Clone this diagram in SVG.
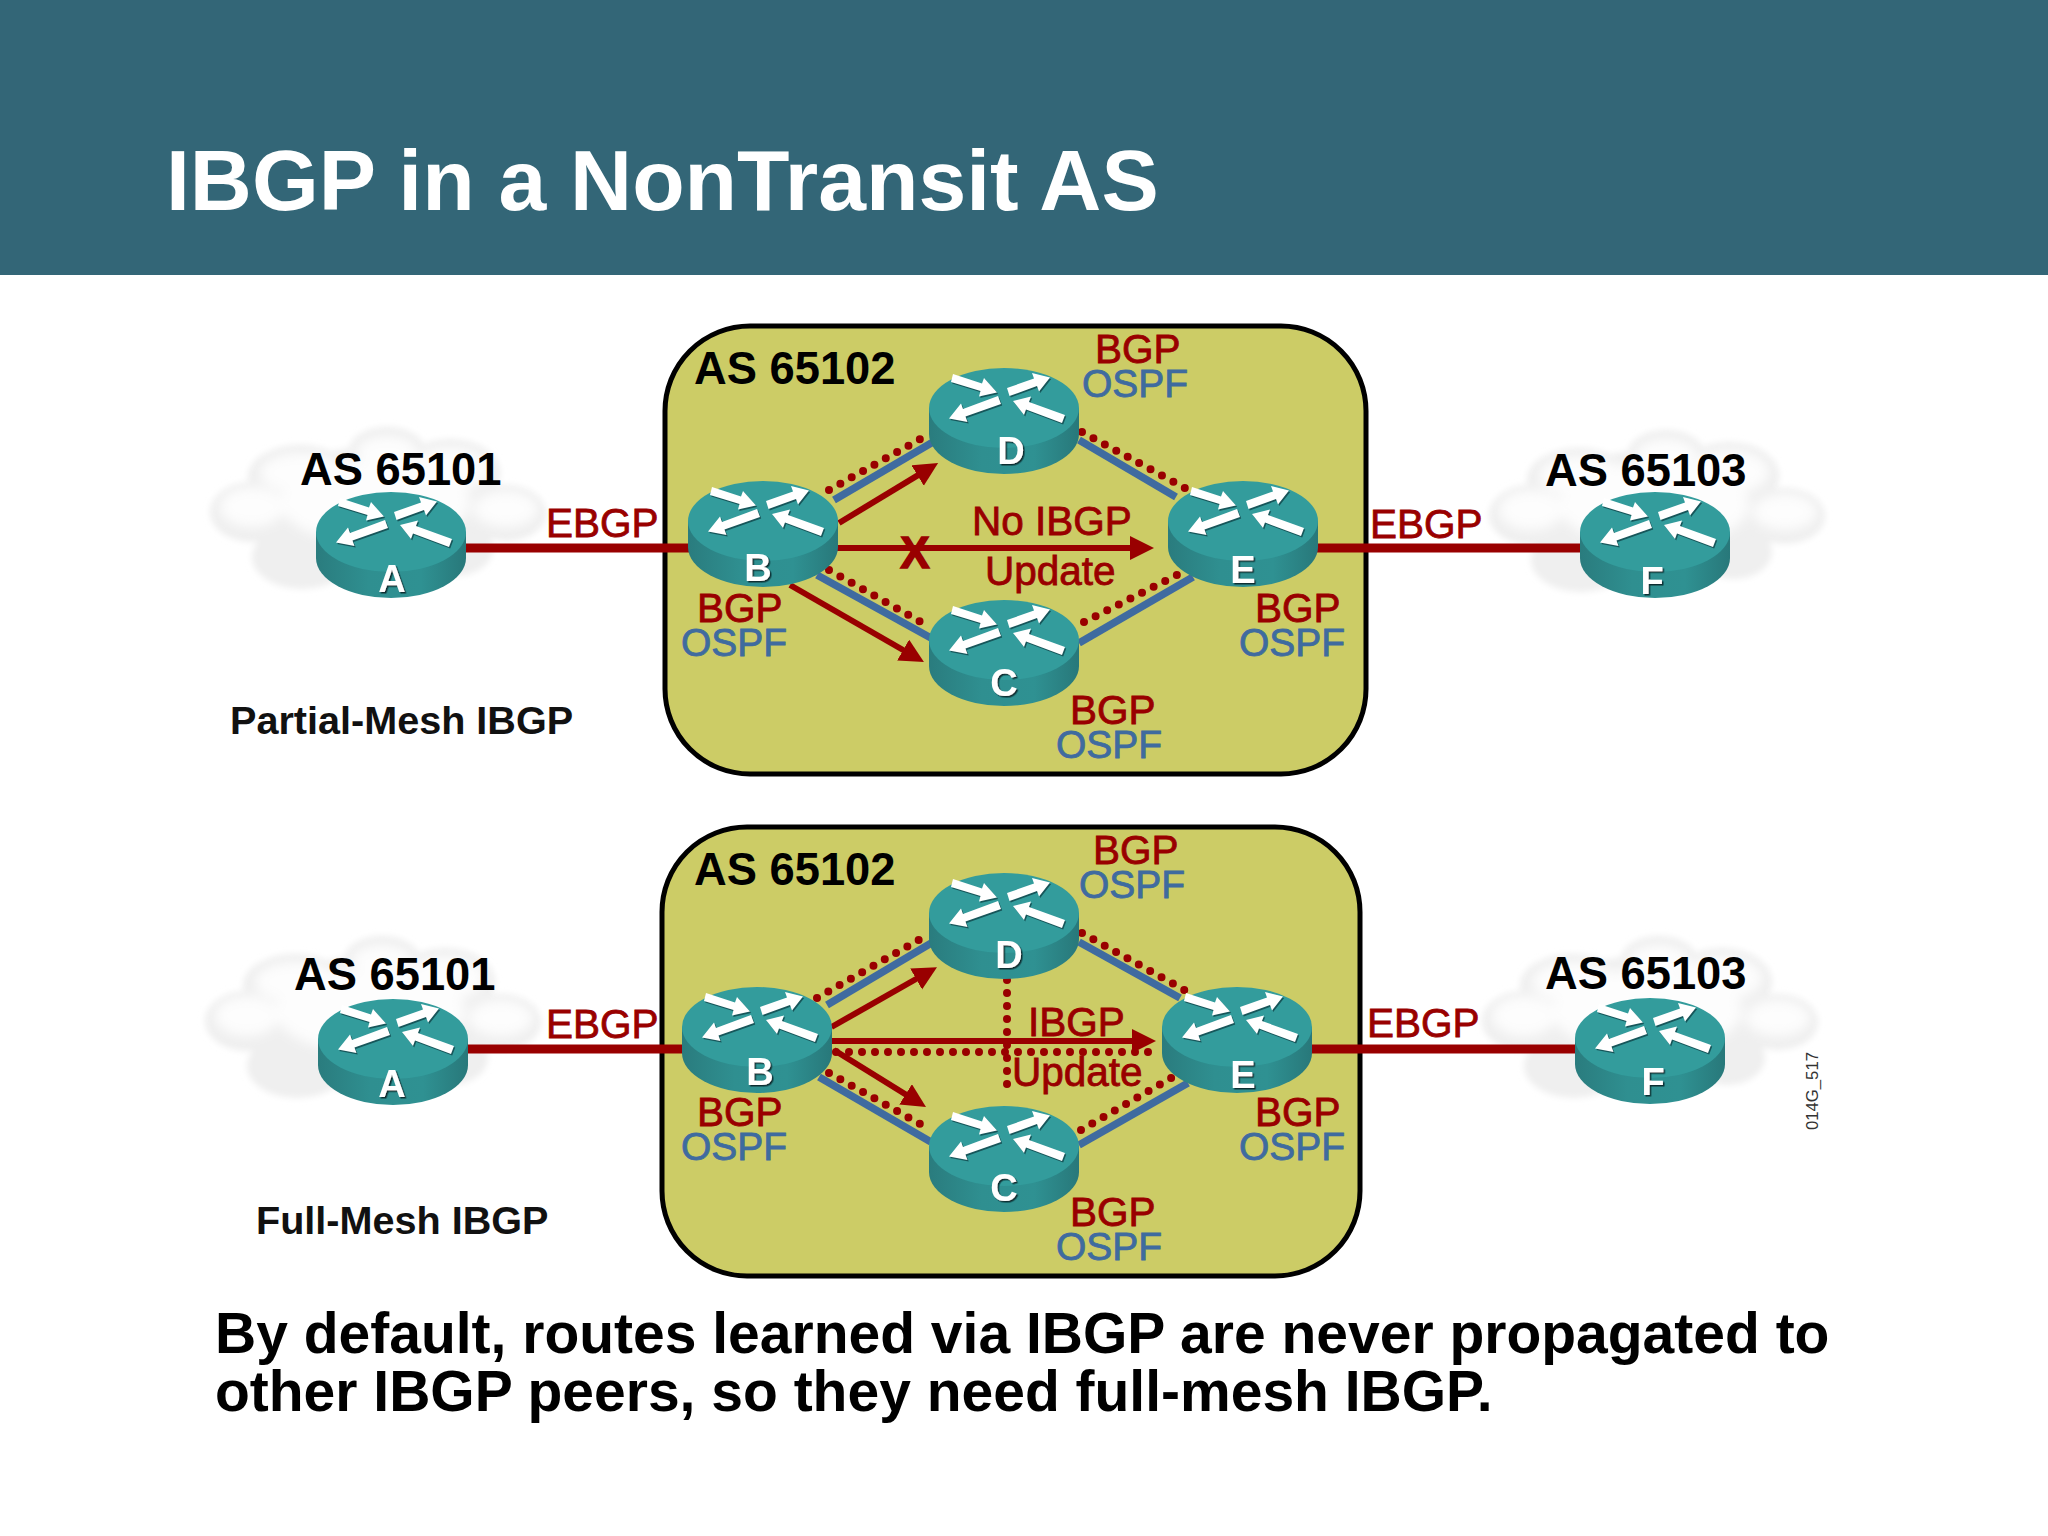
<svg xmlns="http://www.w3.org/2000/svg" width="2048" height="1536" viewBox="0 0 2048 1536">
<style>
text{font-family:"Liberation Sans",Arial,sans-serif}
.h{font-weight:bold;fill:#000;font-size:45.3px}
.sub{font-weight:bold;fill:#111;font-size:39.6px}
.body{font-weight:bold;fill:#000;font-size:57px}
.b{fill:#990000;stroke:#990000;stroke-width:.8;font-size:40.5px}
.o{fill:#3f6b9f;stroke:#3f6b9f;stroke-width:.8;font-size:39px}
.lab{font-weight:bold;fill:#fff;font-size:38px;text-anchor:middle;filter:url(#shadow)}
.box{fill:#cccc66;stroke:#000;stroke-width:5}
.ebgp{stroke:#990000;stroke-width:9;fill:none}
.ospf{stroke:#3f6ba0;stroke-width:7.5;fill:none}
.dot{stroke:#990000;stroke-width:8;stroke-linecap:round;stroke-dasharray:0 13;fill:none}
.arr{stroke:#990000;stroke-width:6;fill:none;marker-end:url(#head)}
</style>
<defs>
<marker id="head" markerUnits="userSpaceOnUse" markerWidth="26" markerHeight="26" refX="4" refY="12" orient="auto"><path d="M0,0L24,12L0,24Z" fill="#990000"/></marker>
<filter id="shadow" x="-30%" y="-30%" width="170%" height="170%"><feDropShadow dx="1.5" dy="1.5" stdDeviation="0.5" flood-color="#0b2f30"/></filter>
<filter id="soft" x="-10%" y="-10%" width="120%" height="120%"><feGaussianBlur stdDeviation="3"/></filter>
<filter id="softer" x="-20%" y="-20%" width="140%" height="140%"><feGaussianBlur stdDeviation="6"/></filter>
<g id="cloud">
<g filter="url(#soft)" fill="#efefef">
<ellipse cx="163" cy="88" rx="115" ry="68"/>
<ellipse cx="42" cy="85" rx="42" ry="30"/>
<ellipse cx="90" cy="50" rx="52" ry="32"/>
<ellipse cx="177" cy="24" rx="38" ry="24"/>
<ellipse cx="240" cy="46" rx="50" ry="34"/>
<ellipse cx="296" cy="86" rx="40" ry="28"/>
<ellipse cx="92" cy="130" rx="50" ry="32"/>
<ellipse cx="245" cy="122" rx="38" ry="27"/>
</g>
<g filter="url(#softer)" fill="#fdfdfd">
<ellipse cx="42" cy="80" rx="32" ry="20"/>
<ellipse cx="92" cy="46" rx="42" ry="20"/>
<ellipse cx="177" cy="24" rx="30" ry="15"/>
<ellipse cx="240" cy="42" rx="40" ry="22"/>
<ellipse cx="296" cy="82" rx="32" ry="18"/>
<ellipse cx="165" cy="75" rx="95" ry="42"/>
</g>
</g>
<g id="arrows">
<polygon points="-51,6 -22,15.5 -20,10 -7,24.5 -25,28.5 -23.5,23 -53,14"/>
<polygon points="3,20 30,10.5 28,5 46,9.5 35,23.5 33,18 5.5,28"/>
<polygon points="-6,28 -41,41 -43,35.5 -55,50.5 -36.5,54 -38.5,48.5 -3,36"/>
<polygon points="61,47 25,34 27,28.5 9,33 20,47 22,41.5 58,55"/>
</g>
<linearGradient id="side"><stop offset="0" stop-color="#2a7c7e"/><stop offset=".35" stop-color="#2f8f90"/><stop offset=".7" stop-color="#2f9192"/><stop offset="1" stop-color="#28787a"/></linearGradient>
<g id="router">
<path d="M-75,40V66A75,40 0 0 0 75,66V40Z" fill="url(#side)"/>
<ellipse cx="0" cy="40" rx="75" ry="40" fill="#339c9c"/>
<use href="#arrows" x="1.2" y="1.5" fill="#17565a"/>
<use href="#arrows" fill="#fff"/>
</g>
</defs>

<rect id="page" width="2048" height="1536" fill="#fff"/>
<g id="header"><rect width="2048" height="275" fill="#336677"/>
<text x="166" y="210" font-size="85.9" font-weight="bold" fill="#fff">IBGP in a NonTransit AS</text></g>

<g id="cloud-top-as65101"><use href="#cloud" x="210" y="427"/></g>
<g id="cloud-top-as65103"><use href="#cloud" x="1489" y="430"/></g>
<g id="cloud-bottom-as65101"><use href="#cloud" x="205" y="936"/></g>
<g id="cloud-bottom-as65103"><use href="#cloud" x="1482" y="936"/></g>

<g id="as-top"><rect class="box" x="665" y="326" width="701" height="448" rx="85" ry="85"/></g>
<g id="as-bottom"><rect class="box" x="662" y="827" width="698" height="449" rx="85" ry="85"/></g>

<g id="connectors">
<g id="connectors-top">
<line class="ebgp" x1="460" y1="548" x2="700" y2="548"/>
<line class="ebgp" x1="1310" y1="548" x2="1590" y2="548"/>
<line class="ospf" x1="834" y1="500" x2="933" y2="442"/>
<line class="ospf" x1="1079" y1="440" x2="1176" y2="497"/>
<line class="ospf" x1="817" y1="575" x2="931" y2="638"/>
<line class="ospf" x1="1079" y1="643" x2="1193" y2="577"/>
<line class="dot" x1="829" y1="490" x2="924" y2="437"/>
<line class="dot" x1="1082" y1="432" x2="1185" y2="488"/>
<line class="dot" x1="829" y1="570" x2="921" y2="622"/>
<line class="dot" x1="1084" y1="622" x2="1183" y2="572"/>
<line class="arr" x1="839" y1="523" x2="921" y2="473.4"/>
<line class="arr" x1="790" y1="585" x2="906.6" y2="652"/>
<line class="arr" x1="834" y1="548" x2="1134" y2="548"/>
</g>
<g id="connectors-bottom">
<line class="ebgp" x1="460" y1="1049" x2="700" y2="1049"/>
<line class="ebgp" x1="1300" y1="1049" x2="1590" y2="1049"/>
<line class="ospf" x1="827" y1="1005" x2="933" y2="942"/>
<line class="ospf" x1="1079" y1="942" x2="1180" y2="998"/>
<line class="ospf" x1="819" y1="1077" x2="931" y2="1142"/>
<line class="ospf" x1="1079" y1="1145" x2="1188" y2="1083"/>
<line class="dot" x1="817" y1="998" x2="924" y2="937"/>
<line class="dot" x1="1082" y1="933" x2="1188" y2="992"/>
<line class="dot" x1="829" y1="1073" x2="931" y2="1130"/>
<line class="dot" x1="1081" y1="1130" x2="1173" y2="1077"/>
<line class="dot" x1="836" y1="1052" x2="1161" y2="1052"/>
<line class="dot" x1="1007" y1="980" x2="1007" y2="1097"/>
<line class="arr" x1="831.5" y1="1027" x2="919.6" y2="977"/>
<line class="arr" x1="831" y1="1041" x2="1136" y2="1041"/>
<line class="arr" x1="834" y1="1050" x2="909" y2="1096.5"/>
</g>
</g>

<g id="top-A"><use href="#router" x="391" y="492"/><text class="lab" x="392" y="592">A</text><text class="h" x="300" y="485">AS 65101</text></g>
<g id="top-B"><use href="#router" x="763" y="481"/><text class="lab" x="758" y="581">B</text><text class="b" x="697" y="622">BGP</text><text class="o" x="681" y="656">OSPF</text></g>
<g id="top-D"><use href="#router" x="1004" y="368"/><text class="lab" x="1011" y="464">D</text><text class="b" x="1095" y="363">BGP</text><text class="o" x="1082" y="397">OSPF</text></g>
<g id="top-C"><use href="#router" x="1004" y="600"/><text class="lab" x="1004" y="696">C</text><text class="b" x="1070" y="724">BGP</text><text class="o" x="1056" y="758">OSPF</text></g>
<g id="top-E"><use href="#router" x="1243" y="481"/><text class="lab" x="1243" y="583">E</text><text class="b" x="1255" y="622">BGP</text><text class="o" x="1239" y="656">OSPF</text></g>
<g id="top-F"><use href="#router" x="1655" y="492"/><text class="lab" x="1652" y="594">F</text><text class="h" x="1545" y="486">AS 65103</text></g>

<g id="bottom-A"><use href="#router" x="393" y="999"/><text class="lab" x="392" y="1097">A</text><text class="h" x="294" y="990">AS 65101</text></g>
<g id="bottom-B"><use href="#router" x="757" y="987"/><text class="lab" x="760" y="1085">B</text><text class="b" x="697" y="1126">BGP</text><text class="o" x="681" y="1160">OSPF</text></g>
<g id="bottom-D"><use href="#router" x="1004" y="873"/><text class="lab" x="1009" y="968">D</text><text class="b" x="1093" y="864">BGP</text><text class="o" x="1079" y="898">OSPF</text></g>
<g id="bottom-C"><use href="#router" x="1004" y="1106"/><text class="lab" x="1004" y="1201">C</text><text class="b" x="1070" y="1226">BGP</text><text class="o" x="1056" y="1260">OSPF</text></g>
<g id="bottom-E"><use href="#router" x="1237" y="987"/><text class="lab" x="1243" y="1088">E</text><text class="b" x="1255" y="1126">BGP</text><text class="o" x="1239" y="1160">OSPF</text></g>
<g id="bottom-F"><use href="#router" x="1650" y="998"/><text class="lab" x="1653" y="1095">F</text><text class="h" x="1545" y="989">AS 65103</text></g>

<g id="labels">
<text class="h" x="694" y="384">AS 65102</text>
<text class="h" x="694" y="885">AS 65102</text>
<text class="b" x="546" y="537">EBGP</text>
<text class="b" x="1370" y="538">EBGP</text>
<text class="b" x="546" y="1038">EBGP</text>
<text class="b" x="1367" y="1037">EBGP</text>
<text class="b" x="972" y="535" font-size="40">No IBGP</text>
<text class="b" x="985" y="585" font-size="41">Update</text>
<text x="915" y="568" font-size="44" font-weight="bold" fill="#990000" stroke="#990000" stroke-width="1.5" text-anchor="middle">X</text>
<text class="b" x="1028" y="1036">IBGP</text>
<text class="b" x="1012" y="1086" font-size="41">Update</text>
<text class="sub" x="230" y="734">Partial-Mesh IBGP</text>
<text class="sub" x="256" y="1234">Full-Mesh IBGP</text>
<text class="body" x="215" y="1353">By default, routes learned via IBGP are never propagated to</text>
<text class="body" x="215" y="1411">other IBGP peers, so they need full-mesh IBGP.</text>
<text transform="translate(1818,1130) rotate(-90)" font-size="16.7" fill="#333">014G_517</text>
</g>
</svg>
